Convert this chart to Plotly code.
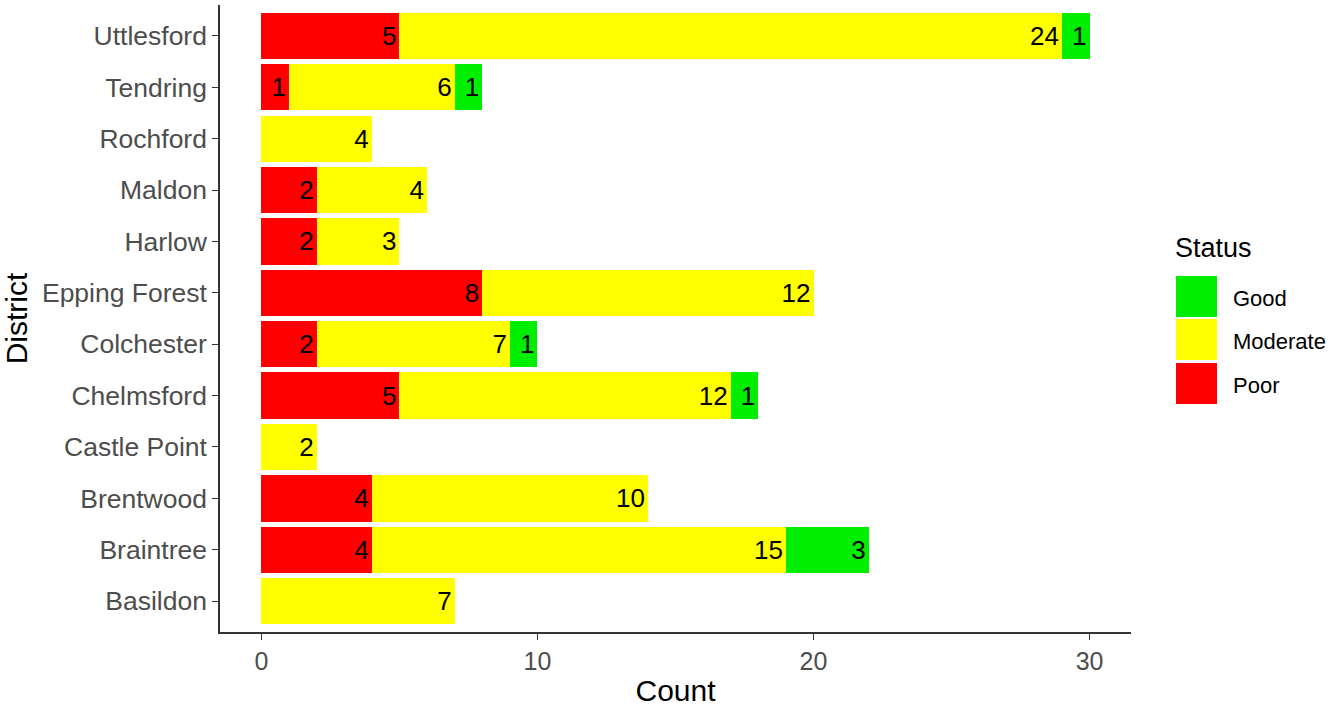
import plotly.graph_objects as go

districts = ["Basildon", "Braintree", "Brentwood", "Castle Point", "Chelmsford", "Colchester",
             "Epping Forest", "Harlow", "Maldon", "Rochford", "Tendring", "Uttlesford"]
poor = [0, 4, 4, 0, 5, 2, 8, 2, 2, 0, 1, 5]
moderate = [7, 15, 10, 2, 12, 7, 12, 3, 4, 4, 6, 24]
good = [0, 3, 0, 0, 1, 1, 0, 0, 0, 0, 1, 1]
status_names = ["Good", "Moderate", "Poor"]
status_colors = {"Good": "#00EE00", "Moderate": "#FFFF00", "Poor": "#FF0000"}
x_ticks = [0, 10, 20, 30]

FONT = "Liberation Sans, Arial, sans-serif"

fig = go.Figure()
for name, vals in [("Poor", poor), ("Moderate", moderate), ("Good", good)]:
    fig.add_trace(go.Bar(
        y=districts, x=vals, orientation="h", name=name,
        marker=dict(color=status_colors[name], line=dict(width=0)),
        text=[str(v) if v > 0 else "" for v in vals],
        textposition="inside", insidetextanchor="end",
        textfont=dict(size=26, color="black", family=FONT),
        constraintext="none", showlegend=False, hoverinfo="x+y+name",
    ))
fig.update_layout(barmode="stack", bargap=0.1)

plot_l, plot_r, plot_t, plot_b = 220, 1131, 5, 632
W, H = 1332, 709
def px_to_paper_x(px):
    return (px - plot_l) / (plot_r - plot_l)
def px_to_paper_y(py):
    return (plot_b - py) / (plot_b - plot_t)

shapes = []
annotations = [dict(text="Status", x=px_to_paper_x(1173), y=px_to_paper_y(248),
                    xref="paper", yref="paper", showarrow=False, xanchor="left", yanchor="middle",
                    font=dict(size=27, color="black", family=FONT))]
key_tops = [276, 319, 363]
for name, top in zip(status_names, key_tops):
    shapes.append(dict(type="rect", xref="paper", yref="paper",
                       x0=px_to_paper_x(1176), x1=px_to_paper_x(1217),
                       y0=px_to_paper_y(top), y1=px_to_paper_y(top + 41),
                       fillcolor=status_colors[name], line=dict(width=0)))
    annotations.append(dict(text=name, x=px_to_paper_x(1231), y=px_to_paper_y(top + 22),
                            xref="paper", yref="paper", showarrow=False,
                            xanchor="left", yanchor="middle",
                            font=dict(size=22, color="black", family=FONT)))

fig.update_layout(
    width=W, height=H,
    margin=dict(l=plot_l, r=W - plot_r, t=plot_t, b=H - plot_b),
    paper_bgcolor="white", plot_bgcolor="white",
    font=dict(family=FONT, color="black"),
    shapes=shapes, annotations=annotations,
    xaxis=dict(range=[-1.5, 31.5], tickvals=x_ticks, ticks="outside", ticklen=6,
               tickcolor="#333333", showline=True, linecolor="#333333", linewidth=1.5,
               showgrid=False, zeroline=False,
               tickfont=dict(size=25, color="#4D4D4D", family=FONT),
               title=dict(text="Count", font=dict(size=30, color="black", family=FONT), standoff=6)),
    yaxis=dict(categoryorder="array", categoryarray=districts, range=[-0.6, 11.6],
               ticks="outside", ticklen=6, tickcolor="#333333",
               showline=True, linecolor="#333333", linewidth=1.5, showgrid=False, zeroline=False,
               tickfont=dict(size=26.5, color="#4D4D4D", family=FONT),
               title=dict(text="District", font=dict(size=30, color="black", family=FONT), standoff=6)),
)

fig.write_html("out.html", config={"displayModeBar": False},
               post_script="document.body.style.margin='0px';")
